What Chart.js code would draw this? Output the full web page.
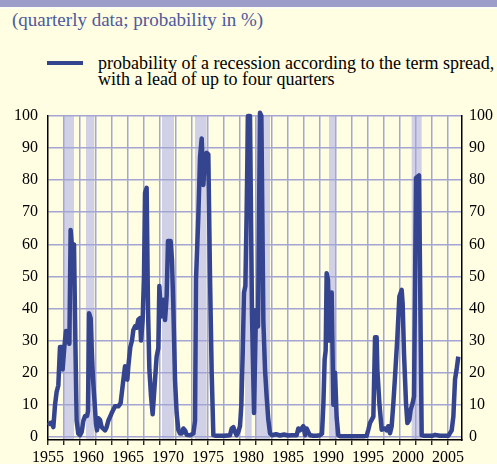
<!DOCTYPE html>
<html lang="en">
<head>
<meta charset="UTF-8">
<title>Recession probability from the term spread</title>
<script src="https://cdn.jsdelivr.net/npm/chart.js"></script>
<style>
    body { margin: 0; background: #fffde2; font-family: "Liberation Serif", "Times New Roman", Times, "DejaVu Serif", serif; }
    #wrap { position: relative; width: 497px; height: 464px; overflow: hidden; }
    #topbar { position: absolute; left: 0; top: 0; width: 497px; height: 7px; background: #9c9ec9; }
    #topline { position: absolute; left: 0; top: 7px; width: 497px; height: 2px; background: #fffff4; }
    #note { position: absolute; left: 12px; top: 10px; font-size: 19px; line-height: 19px; color: #4d5a9c; white-space: nowrap; }
    #legLine { position: absolute; left: 47px; top: 61px; width: 36px; height: 4px; background: #34448e; }
    #legText { position: absolute; left: 98px; top: 55px; font-size: 18px; line-height: 16px; color: #000; white-space: nowrap; }
    canvas { position: absolute; left: 0; top: 0; }
</style>
</head>
<body>
<div id="wrap">
    <div id="topbar"></div>
    <div id="topline"></div>
    <div id="note">(quarterly data; probability in %)</div>
    <div id="legLine"></div>
    <div id="legText">probability of a recession according to the term spread,<br>with a lead of up to four quarters</div>
    <canvas id="chart" width="497" height="464"></canvas>
</div>

<script>
    // quarterly probability (year, %)
    const years = [
        1955.0, 1955.25, 1955.5, 1955.67, 1955.88, 1956.08, 1956.29, 1956.5, 1956.71, 1956.83,
        1957.04, 1957.25, 1957.46, 1957.67, 1957.83, 1958.04, 1958.25, 1958.42, 1958.58, 1958.79,
        1959.0, 1959.21, 1959.42, 1959.63, 1959.88, 1960.0, 1960.13, 1960.33, 1960.5, 1960.63,
        1960.79, 1961.0, 1961.13, 1961.29, 1961.5, 1961.71, 1962.13, 1962.33, 1962.54, 1962.96,
        1963.38, 1963.79, 1964.08, 1964.42, 1964.63, 1964.83, 1964.92, 1965.04, 1965.29, 1965.5,
        1965.67, 1965.88, 1966.08, 1966.29, 1966.5, 1966.63, 1966.83, 1967.0, 1967.13, 1967.33,
        1967.5, 1967.67, 1967.88, 1968.08, 1968.38, 1968.58, 1968.79, 1968.92, 1969.13, 1969.42,
        1969.63, 1969.83, 1970.0, 1970.33, 1970.5, 1970.67, 1970.88, 1971.08, 1971.29, 1971.5,
        1971.71, 1971.92, 1972.13, 1972.33, 1972.75, 1973.17, 1973.38, 1973.5, 1973.79, 1974.0,
        1974.21, 1974.42, 1974.58, 1974.83, 1975.04, 1975.25, 1975.46, 1975.67, 1976.0, 1976.5,
        1977.0, 1977.75, 1977.96, 1978.17, 1978.38, 1978.58, 1978.79, 1979.0, 1979.17, 1979.33,
        1979.5, 1979.67, 1979.83, 1980.0, 1980.25, 1980.5, 1980.75, 1981.0, 1981.25, 1981.5,
        1981.67, 1981.92, 1982.13, 1982.33, 1982.54, 1982.75, 1983.0, 1983.5, 1984.0, 1984.5,
        1985.0, 1985.5, 1986.08, 1986.29, 1986.5, 1986.71, 1986.92, 1987.13, 1987.33, 1987.54,
        1987.75, 1988.17, 1988.58, 1989.0, 1989.25, 1989.42, 1989.58, 1989.71, 1989.83, 1990.0,
        1990.17, 1990.33, 1990.46, 1990.67, 1990.88, 1991.08, 1991.29, 1991.5, 1992.0, 1992.5,
        1993.0, 1993.5, 1994.0, 1994.5, 1994.83, 1995.04, 1995.25, 1995.67, 1995.88, 1996.08,
        1996.17, 1996.42, 1996.71, 1997.13, 1997.33, 1997.54, 1997.75, 1997.96, 1998.17, 1998.38,
        1998.67, 1998.92, 1999.21, 1999.33, 1999.5, 1999.75, 1999.92, 2000.17, 2000.33, 2000.58,
        2000.75, 2001.0, 2001.38, 2001.71, 2002.0, 2002.5, 2003.0, 2003.38, 2004.0, 2004.5,
        2005.04, 2005.46, 2005.67, 2005.88, 2006.08, 2006.29
    ];
    const probs = [
        4.5, 4, 4.5, 3, 10, 14, 16, 28, 28, 21,
        28, 33, 32, 29, 64.5, 58, 60, 30, 5, 1,
        0.5, 1.5, 5, 6.5, 6.5, 8, 38.5, 37, 25, 18,
        12, 4, 2, 5.8, 5.3, 3, 2, 3, 5, 7.4,
        9.5, 9.5, 10.5, 17.8, 22, 21, 17.8, 22, 28, 30,
        33.3, 34.4, 34, 36.5, 37, 30, 36.5, 50, 76, 77.6,
        40, 21, 12.6, 7, 17.8, 25, 27.6, 47, 37.5, 42.7,
        36.4, 43.7, 61, 61, 55, 40, 17.6, 7.4, 2.2, 1,
        1, 2.6, 2, 0.6, 0.5, 1, 5, 49, 68.6, 87,
        93, 78.5, 85, 88.5, 88, 50, 20, 0.5, 0.3, 0.3,
        0.3, 0.5, 2.6, 3, 1.5, 0.5, 1.5, 3.3, 10, 25,
        45, 47, 70, 100, 100, 38, 7.4, 39.5, 34.4, 101,
        100, 36, 20.8, 12.6, 5.3, 1.1, 0.5, 0.8, 0.4, 0.7,
        0.4, 0.5, 0.5, 2.6, 2, 2.6, 3.3, 0.5, 2.6, 1.5,
        0.5, 0.3, 0.3, 0.5, 1, 10, 24, 27, 51, 49,
        30, 33, 45, 10, 20, 6, 0.5, 0.2, 0.2, 0.2,
        0.2, 0.2, 0.2, 0.2, 0.3, 2.2, 4.3, 6.3, 31, 31,
        20.8, 10.5, 2.2, 2.6, 2, 3.3, 1.1, 3.3, 10.5, 18.8,
        31, 43.7, 45.8, 41.6, 26, 10.5, 4.3, 5.3, 8.4, 10.5,
        12.6, 80.7, 81.5, 0.5, 0.3, 0.3, 0.3, 0.6, 0.3, 0.3,
        0.3, 2, 6.3, 17.9, 21, 25
    ];

    // shaded recession periods
    const recStart = [1957.0, 1959.75, 1969.25, 1973.38, 1979.63, 1980.88, 1990.13, 2000.46];
    const recEnd   = [1958.25, 1960.79, 1970.75, 1974.83, 1980.46, 1982.75, 1991.0, 2001.71];

    const xLabelYears = [1955, 1960, 1965, 1970, 1975, 1980, 1985, 1990, 1995, 2000, 2005];
    const yTickValues = [0, 10, 20, 30, 40, 50, 60, 70, 80, 90, 100];

    const lineColor = '#34448e';
    const gridColor = '#a3a5d3';
    const bandColor = '#d0d1e7';
    const serif = '"Liberation Serif", "Times New Roman", Times, "DejaVu Serif", serif';

    const points = years.map((y, i) => ({ x: y, y: probs[i] }));

    const bandsPlugin = {
        id: 'bands',
        beforeDraw(chart) {
            const { ctx, chartArea, scales } = chart;
            ctx.save();
            ctx.fillStyle = bandColor;
            for (let i = 0; i < recStart.length; i++) {
                const x1 = scales.x.getPixelForValue(recStart[i]);
                const x2 = scales.x.getPixelForValue(recEnd[i]);
                ctx.fillRect(x1, chartArea.top, x2 - x1, chartArea.bottom - chartArea.top);
            }
            ctx.restore();
        }
    };

    const isGridYear = v => Number.isInteger(v) && (v - 1955) % 2 === 0;
    const setYTicks = scale => { scale.ticks = yTickValues.map(v => ({ value: v })); };
    const tickFont = { family: serif, size: 16 };

    new Chart(document.getElementById('chart'), {
        type: 'line',
        data: {
            datasets: [{
                data: points,
                borderColor: lineColor,
                borderWidth: 4.5,
                borderJoinStyle: 'round',
                pointRadius: 0,
                tension: 0,
                fill: false,
                clip: 6,
                yAxisID: 'y'
            }]
        },
        options: {
            responsive: false,
            animation: false,
            layout: { padding: { top: 116, left: 0, right: 0, bottom: 0 } },
            plugins: { legend: { display: false }, tooltip: { enabled: false } },
            scales: {
                x: {
                    type: 'linear',
                    min: 1955,
                    max: 2006.75,
                    afterFit: s => { s.height = 24; },
                    border: { display: true, color: '#000', width: 1.5 },
                    grid: {
                        color: c => (c.tick && isGridYear(c.tick.value) && c.tick.value !== 1955) ? gridColor : 'rgba(0,0,0,0)',
                        tickColor: c => (c.tick && isGridYear(c.tick.value)) ? '#000' : 'rgba(0,0,0,0)',
                        lineWidth: 1.5,
                        tickLength: 5,
                        tickWidth: 1.2
                    },
                    ticks: {
                        stepSize: 1,
                        autoSkip: false,
                        maxRotation: 0,
                        padding: 3,
                        color: '#000',
                        font: { family: serif, size: 16 },
                        callback: v => xLabelYears.includes(v) ? String(v) : ''
                    }
                },
                y: {
                    position: 'left',
                    min: -1,
                    max: 100,
                    afterBuildTicks: setYTicks,
                    afterFit: s => { s.width = 48; },
                    border: { display: true, color: '#000', width: 1.5 },
                    grid: { color: gridColor, lineWidth: 1.5, drawTicks: false },
                    ticks: { padding: 10, color: '#000', font: tickFont }
                },
                y2: {
                    position: 'right',
                    min: -1,
                    max: 100,
                    afterBuildTicks: setYTicks,
                    afterFit: s => { s.width = 35; },
                    border: { display: true, color: '#000', width: 1.5 },
                    grid: { display: false, drawTicks: false },
                    ticks: { padding: 7, color: '#000', font: tickFont }
                }
            }
        },
        plugins: [bandsPlugin]
    });
</script>
</body>
</html>
